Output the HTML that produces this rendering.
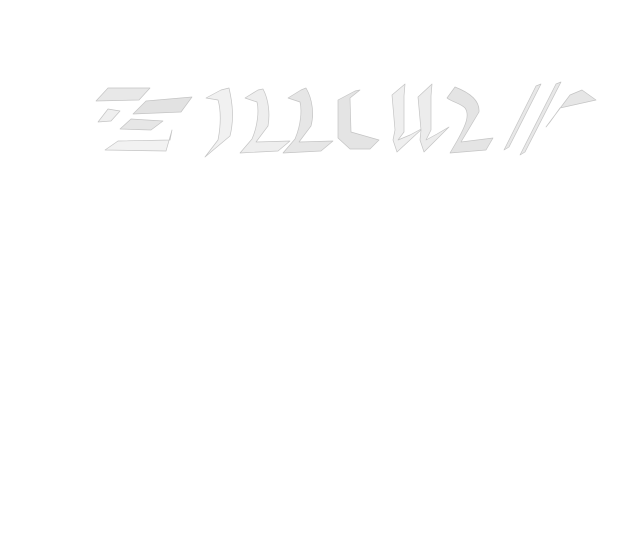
<!DOCTYPE html>
<html><head><meta charset="utf-8"><style>
html,body{margin:0;padding:0;background:#fff;}
svg{display:block}
</style></head><body>
<svg width="618" height="552" viewBox="0 0 618 552" xmlns="http://www.w3.org/2000/svg">
<g fill="#efefef" stroke="#c4c4c4" stroke-width="0.7" stroke-linejoin="round">
<!-- first glyph: horizontal strokes -->
<polygon points="96,101 108,88 150,88 139,100" fill="#e8e8e8"/>
<polygon points="98,122 108,109 120,111 111,121"/>
<polygon points="133,114 146,101 192,97 181,112" fill="#e2e2e2"/>
<polygon points="120,129 131,119 163,121 151,130" fill="#e6e6e6"/>
<polygon points="105,150 118,141 170,140 172,130 166,151" fill="#f2f2f2"/>
<!-- ) -->
<path d="M206,98 L221,90 L229,88 C233,105 234,120 230,136 L205,157 L218,140 C221,125 221,110 218,100 Z" fill="#f1f1f1"/>
<!-- 2 -->
<path d="M245,98 L258,90 L263,89 C269,100 270,115 268,126 L256,142 L290,141 L278,151 L240,153 L252,139 C258,125 259,110 257,102 Z" fill="#eeeeee"/>
<!-- 3 -->
<path d="M288,98 L301,90 L306,88 C313,100 314,115 311,126 L299,142 L333,141 L321,151 L283,153 L295,139 C301,125 302,110 300,102 Z" fill="#e6e6e6"/>
<!-- c -->
<path d="M338,100 L355,91 L360,90 L350,98 L351,132 L379,140 L370,149 L350,149 L338,138 Z" fill="#e4e4e4"/>
<!-- u1 -->
<path d="M392,95 L405,84 L404,96 L404,132 L398,140 L410,135 L423,128 L397,152 L393,140 L395,130 Z" fill="#efefef"/>
<!-- u2 -->
<path d="M418,97 L432,84 L431,96 L431,130 L426,140 L437,134 L449,127 L424,152 L420,140 L421,130 Z" fill="#ececec"/>
<!-- z -->
<path d="M447,98 L455,87 C468,92 480,100 479,112 L461,142 L493,138 L486,150 L450,153 L457,141 C466,125 470,115 465,108 C460,103 452,102 447,98 Z" fill="#e4e4e4"/>
<!-- slashes -->
<polygon points="504,150 536,86 541,84 509,147" fill="#e8e8e8"/>
<polygon points="520,155 556,84 561,82 525,152" fill="#e8e8e8"/>
<!-- 7 -->
<path d="M546,127 L570,95 L582,90 L596,100 L578,104 L560,108 L550,122 Z" fill="#e6e6e6"/>
</g>
</svg>
</body></html>
